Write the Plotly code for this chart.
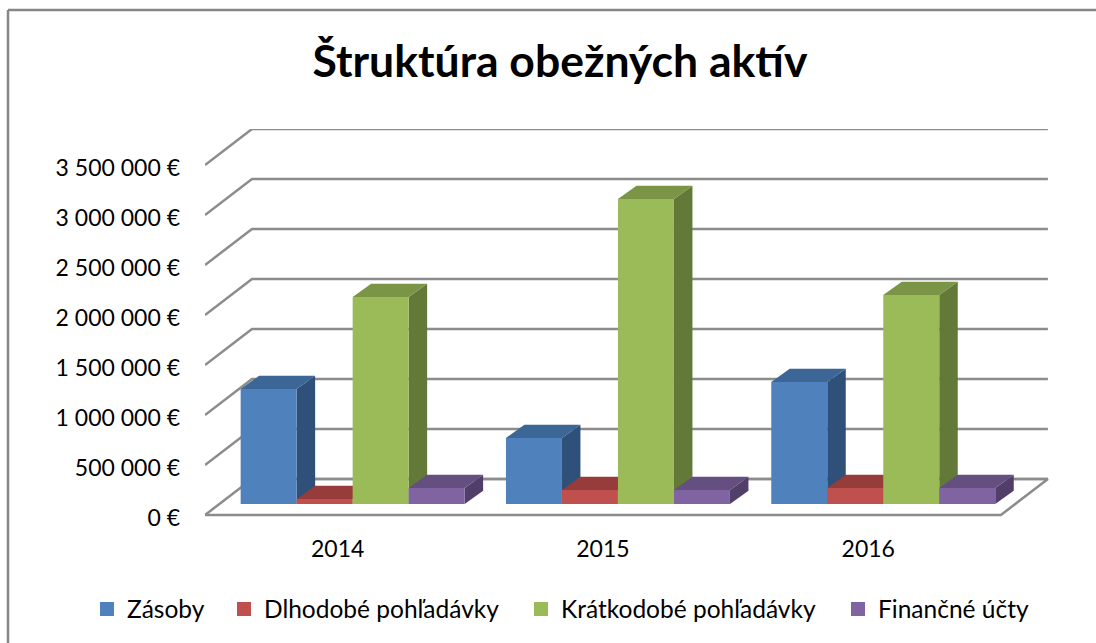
import plotly.graph_objects as go

FIG_W, FIG_H = 1096, 643
CHART_TITLE = "Štruktúra obežných aktív"
years = ["2014", "2015", "2016"]
series_names = ["Zásoby", "Dlhodobé pohľadávky", "Krátkodobé pohľadávky", "Finančné účty"]
zasoby = [1150000, 660000, 1220000]
dlhodobe = [50000, 140000, 160000]
kratkodobe = [2070000, 3050000, 2090000]
financne = [160000, 140000, 160000]
tick_values = [0, 500000, 1000000, 1500000, 2000000, 2500000, 3000000, 3500000]
tick_labels = ["0 €", "500 000 €", "1 000 000 €", "1 500 000 €", "2 000 000 €",
               "2 500 000 €", "3 000 000 €", "3 500 000 €"]
front_colors = ["#4F81BD", "#C0504D", "#9BBB59", "#8064A2"]
top_colors = ["#3C6695", "#963C3A", "#7B9546", "#654E80"]
side_colors = ["#2F5079", "#7A302E", "#637938", "#523F69"]
legend_left_px = [87, 224, 521, 838]

# plot frame in pixels: the zero line sits at ZERO, the frame runs a little lower
L, R, T, ZERO = 205, 1049, 129, 515
B = ZERO + 10
UX = 265.3                          # pixels per category
UY = 50 / 500000                    # pixels per euro
wall_dx, wall_dy = 47 / UX, 36 / UY
plane_dx, plane_dy = 15 / UX, 11 / UY
bar_dx, bar_dy = 18.5 / UX, 13.3 / UY
bar_w = 56 / UX
group_w = bar_w * len(series_names)
label_drop = 2.5 / UY               # value labels sit slightly below their lines

fig = go.Figure()
GRID = dict(color="#8C8C8C", width=2.5)

for v in tick_values:
    fig.add_trace(go.Scatter(x=[0, wall_dx, len(years) + wall_dx], y=[v, v + wall_dy, v + wall_dy],
                             mode="lines", line=GRID, showlegend=False, hoverinfo="skip", cliponaxis=False))
n = len(years)
fig.add_trace(go.Scatter(x=[wall_dx, n + wall_dx, n, 0], y=[wall_dy, wall_dy, 0, 0],
                         mode="lines", line=GRID, showlegend=False, hoverinfo="skip", cliponaxis=False))


def poly(xs, ys, color):
    fig.add_trace(go.Scatter(x=xs + xs[:1], y=ys + ys[:1], mode="lines", fill="toself",
                             fillcolor=color, line=dict(width=0, color=color),
                             showlegend=False, hoverinfo="skip", cliponaxis=False))


all_series = [zasoby, dlhodobe, kratkodobe, financne]
for c in range(n):
    x0 = c + (1 - group_w) / 2 + plane_dx
    for s, values in enumerate(all_series):
        a, b = x0 + s * bar_w, x0 + (s + 1) * bar_w
        lo, hi = plane_dy, plane_dy + values[c]
        poly([b, b + bar_dx, b + bar_dx, b], [lo, lo + bar_dy, hi + bar_dy, hi], side_colors[s])
        poly([a, b, b + bar_dx, a + bar_dx], [hi, hi, hi + bar_dy, hi + bar_dy], top_colors[s])
        poly([a, b, b, a], [lo, lo, hi, hi], front_colors[s])

layout_legends = {}
for s, name in enumerate(series_names):
    key = "legend" if s == 0 else f"legend{s + 1}"
    fig.add_trace(go.Scatter(x=[None], y=[None], mode="markers", name=name, legend=key,
                             marker=dict(symbol="square", size=14, color=front_colors[s])))
    layout_legends[key] = dict(xref="container", yref="container", x=legend_left_px[s] / FIG_W,
                               xanchor="left", y=1 - 609 / FIG_H, yanchor="middle",
                               bgcolor="rgba(0,0,0,0)", font=dict(size=24.5, color="#000000", family="Lato"))

fig.update_layout(
    width=FIG_W, height=FIG_H,
    margin=dict(l=L, r=FIG_W - R, t=T, b=FIG_H - B, autoexpand=False),
    paper_bgcolor="white", plot_bgcolor="rgba(0,0,0,0)",
    font=dict(family="Lato", color="#000000"),
    title=dict(text=f"<b>{CHART_TITLE}</b>", x=560 / FIG_W, xanchor="center", xref="container",
               y=1 - 61 / FIG_H, yanchor="middle", yref="container",
               font=dict(size=44.5, family="Lato", color="#000000")),
    xaxis=dict(range=[0, (R - L) / UX], tickmode="array", tickvals=[i + 0.5 for i in range(n)],
               ticktext=years, showgrid=False, zeroline=False, showline=False, ticks="", tickangle=0,
               ticklabelstandoff=8, tickfont=dict(size=23, family="Lato")),
    yaxis=dict(range=[(ZERO - B) / UY, (ZERO - T) / UY], tickmode="array",
               tickvals=[v - label_drop for v in tick_values], ticktext=tick_labels,
               showgrid=False, zeroline=False, showline=False, ticks="",
               ticklabelstandoff=24, tickfont=dict(size=23, family="Lato")),
    shapes=[
        dict(type="line", xref="paper", yref="paper", x0=(8 - L) / (R - L), x1=(FIG_W - L) / (R - L),
             y0=(B - 10) / (B - T), y1=(B - 10) / (B - T), line=dict(color="#868686", width=2.5)),
        dict(type="line", xref="paper", yref="paper", x0=(8 - L) / (R - L), x1=(8 - L) / (R - L),
             y0=(B - 10) / (B - T), y1=(B - FIG_H) / (B - T), line=dict(color="#868686", width=2.5)),
    ],
    **layout_legends,
)
fig.write_html("out.html", config=dict(displayModeBar=False),
               post_script="document.body.style.margin='0';document.body.style.overflow='hidden';")
